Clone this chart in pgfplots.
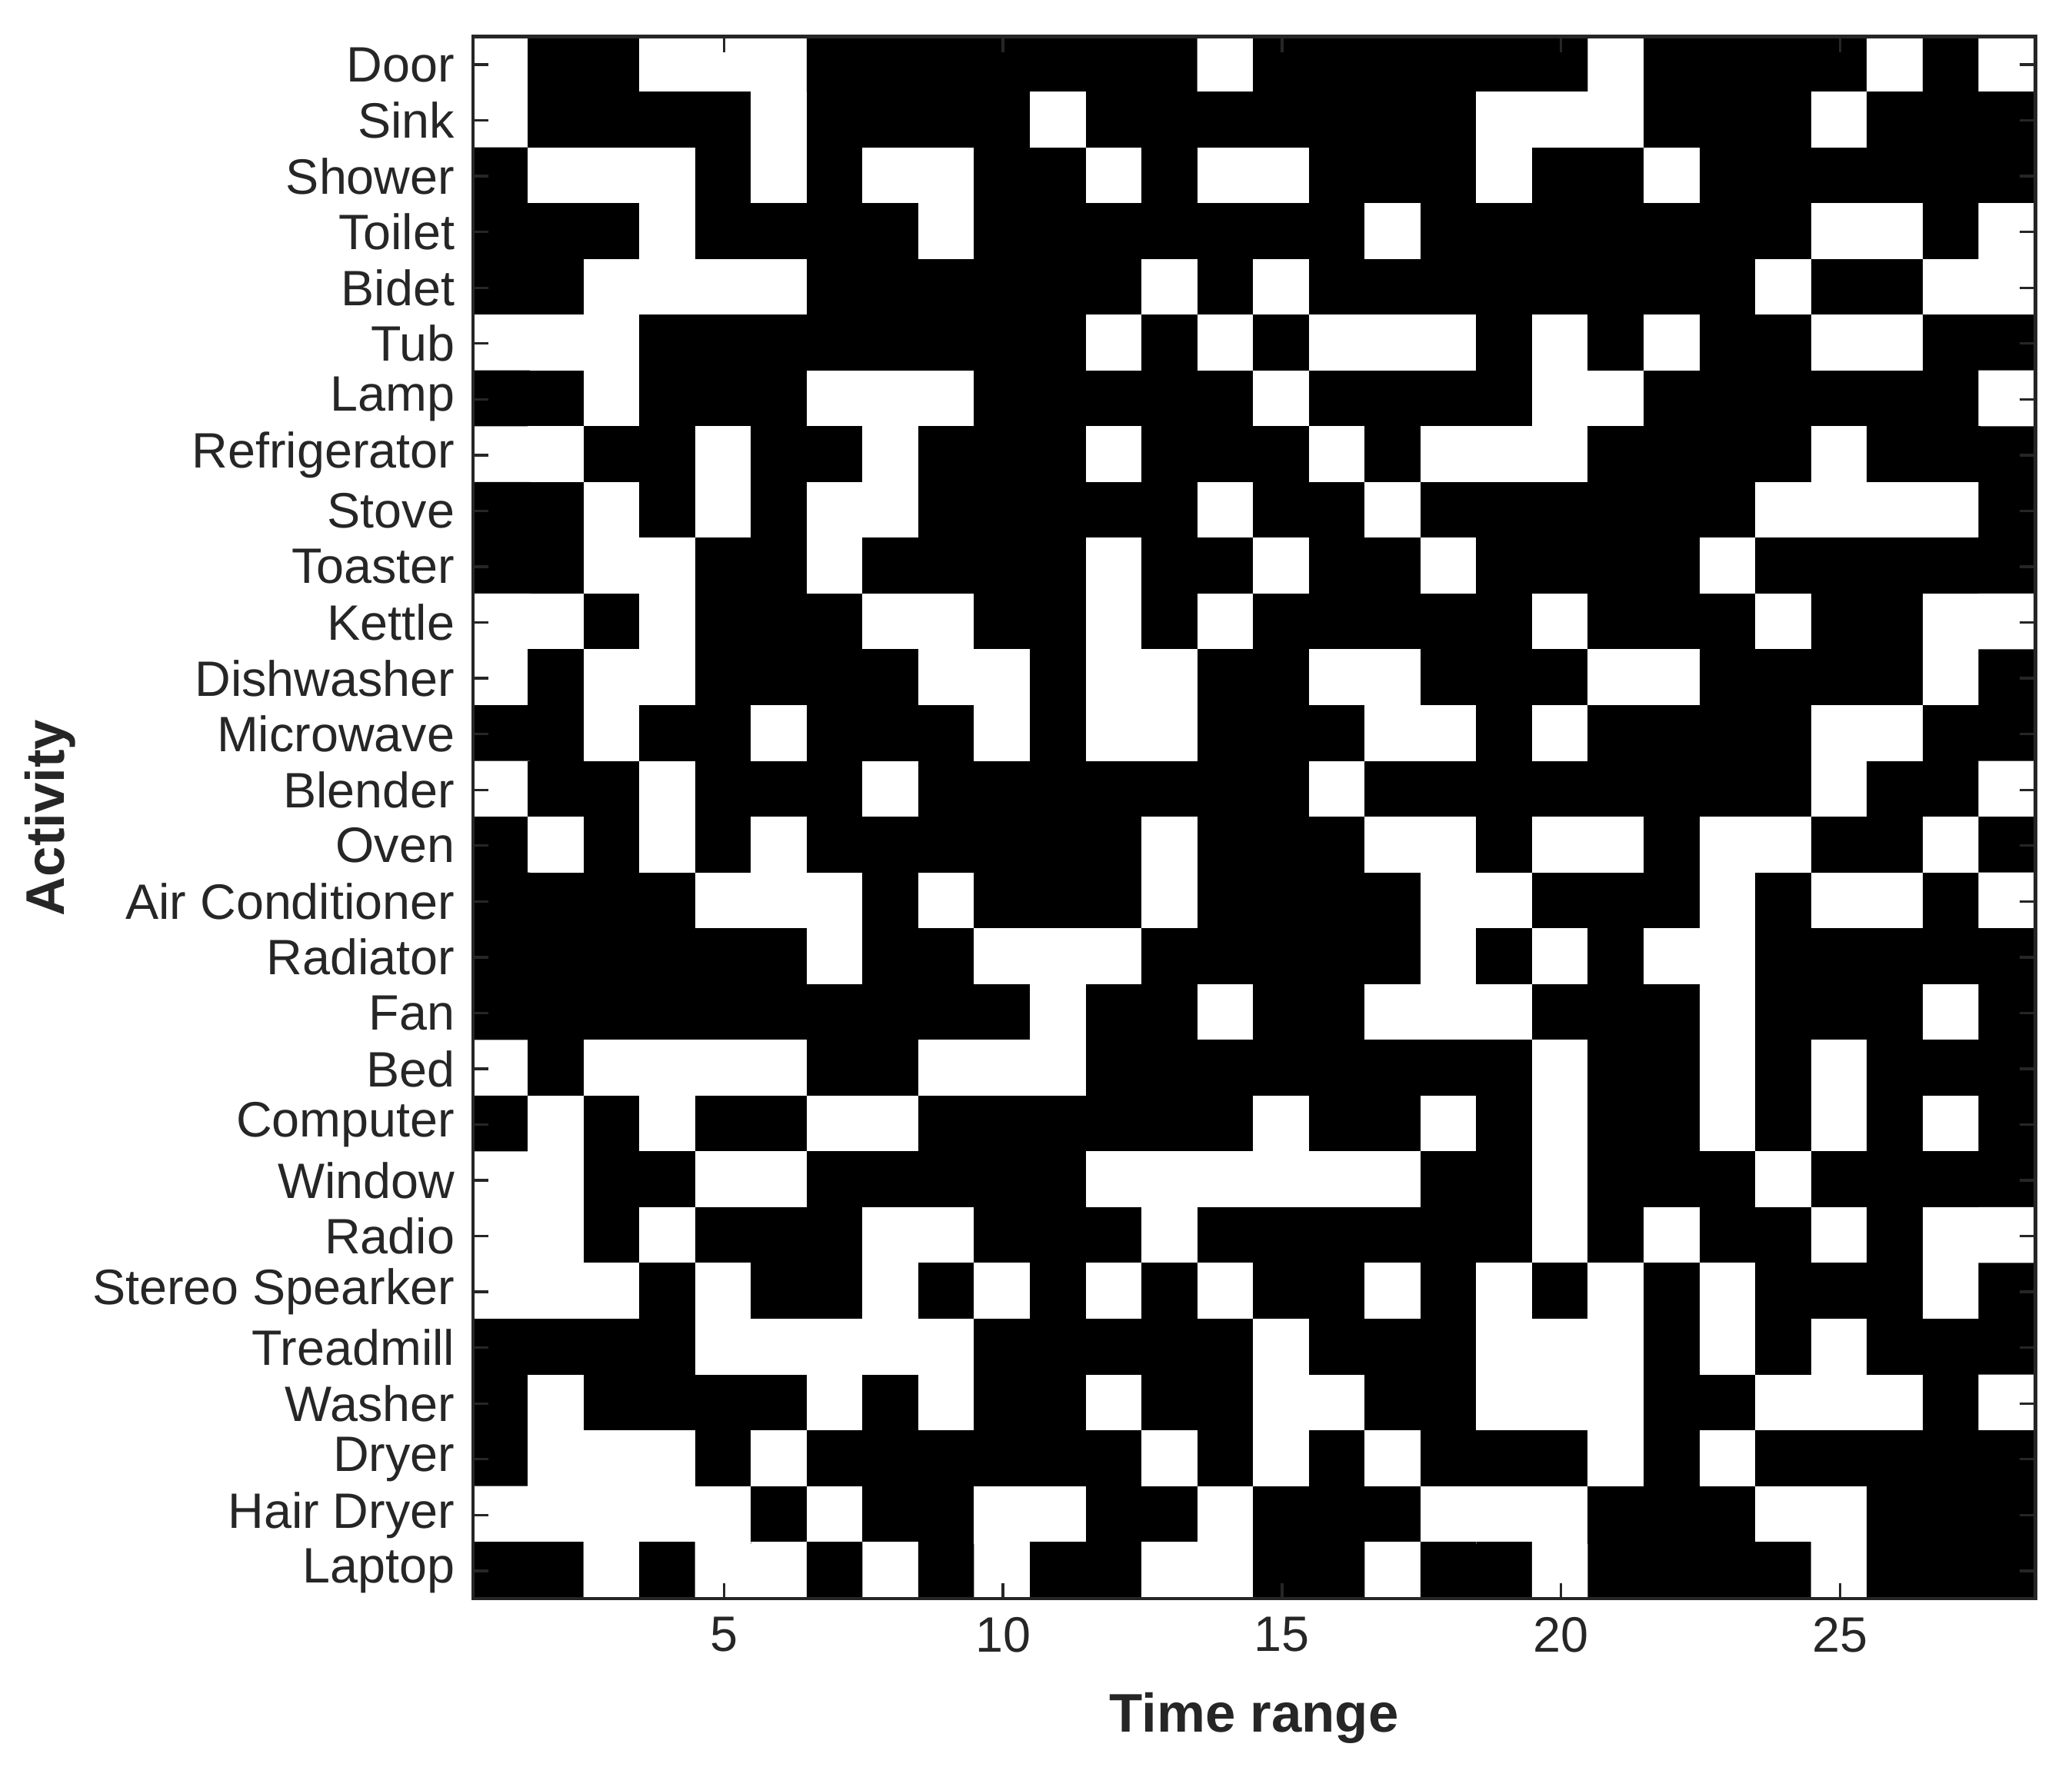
\documentclass[border=0pt]{standalone}
\usepackage{pgfplots}
\pgfplotsset{compat=1.18}
\usepackage{fontspec}
\setmainfont{Liberation Sans}
\definecolor{axgray}{RGB}{38,38,38}
\begin{document}
\begin{tikzpicture}
\begin{axis}[
  scale only axis, width=301.6pt, height=301.6pt,
  xmin=0.5, xmax=28.5, ymin=0.5, ymax=28.5,
  y dir=reverse,
  colormap={bw}{rgb255=(0,0,0) rgb255=(255,255,255)},
  point meta min=0, point meta max=1,
  xtick={5,10,15,20,25},
  ytick={1,...,28},
  yticklabels={Door,Sink,Shower,Toilet,Bidet,Tub,Lamp,Refrigerator,Stove,Toaster,Kettle,Dishwasher,Microwave,Blender,Oven,Air Conditioner,Radiator,Fan,Bed,Computer,Window,Radio,Stereo Spearker,Treadmill,Washer,Dryer,Hair Dryer,Laptop},
  tick align=inside,
  major tick length=3pt,
  axis line style={axgray, line width=0.7pt},
  tick style={axgray, line width=0.5pt},
  ticklabel style={font=\fontsize{9.6}{11}\selectfont, text=axgray},
  /pgf/number format/assume math mode=true,
  xlabel={Time range}, ylabel={Activity},
  label style={font=\fontsize{10.5}{12}\selectfont\bfseries, text=axgray},
  xlabel style={at={(axis description cs:0.5,-0.0763)}, anchor=center},
  ylabel style={at={(axis description cs:-0.2706,0.5)}, anchor=center},
  axis on top,
]
% 1 = white cell, 0 = black cell; rows top to bottom
\addplot[matrix plot*, mesh/cols=28, point meta=explicit] coordinates {
(1,1)[1] (2,1)[0] (3,1)[0] (4,1)[1] (5,1)[1] (6,1)[1] (7,1)[0] (8,1)[0] (9,1)[0] (10,1)[0] (11,1)[0] (12,1)[0] (13,1)[0] (14,1)[1] (15,1)[0] (16,1)[0] (17,1)[0] (18,1)[0] (19,1)[0] (20,1)[0] (21,1)[1] (22,1)[0] (23,1)[0] (24,1)[0] (25,1)[0] (26,1)[1] (27,1)[0] (28,1)[1]
(1,2)[1] (2,2)[0] (3,2)[0] (4,2)[0] (5,2)[0] (6,2)[1] (7,2)[0] (8,2)[0] (9,2)[0] (10,2)[0] (11,2)[1] (12,2)[0] (13,2)[0] (14,2)[0] (15,2)[0] (16,2)[0] (17,2)[0] (18,2)[0] (19,2)[1] (20,2)[1] (21,2)[1] (22,2)[0] (23,2)[0] (24,2)[0] (25,2)[1] (26,2)[0] (27,2)[0] (28,2)[0]
(1,3)[0] (2,3)[1] (3,3)[1] (4,3)[1] (5,3)[0] (6,3)[1] (7,3)[0] (8,3)[1] (9,3)[1] (10,3)[0] (11,3)[0] (12,3)[1] (13,3)[0] (14,3)[1] (15,3)[1] (16,3)[0] (17,3)[0] (18,3)[0] (19,3)[1] (20,3)[0] (21,3)[0] (22,3)[1] (23,3)[0] (24,3)[0] (25,3)[0] (26,3)[0] (27,3)[0] (28,3)[0]
(1,4)[0] (2,4)[0] (3,4)[0] (4,4)[1] (5,4)[0] (6,4)[0] (7,4)[0] (8,4)[0] (9,4)[1] (10,4)[0] (11,4)[0] (12,4)[0] (13,4)[0] (14,4)[0] (15,4)[0] (16,4)[0] (17,4)[1] (18,4)[0] (19,4)[0] (20,4)[0] (21,4)[0] (22,4)[0] (23,4)[0] (24,4)[0] (25,4)[1] (26,4)[1] (27,4)[0] (28,4)[1]
(1,5)[0] (2,5)[0] (3,5)[1] (4,5)[1] (5,5)[1] (6,5)[1] (7,5)[0] (8,5)[0] (9,5)[0] (10,5)[0] (11,5)[0] (12,5)[0] (13,5)[1] (14,5)[0] (15,5)[1] (16,5)[0] (17,5)[0] (18,5)[0] (19,5)[0] (20,5)[0] (21,5)[0] (22,5)[0] (23,5)[0] (24,5)[1] (25,5)[0] (26,5)[0] (27,5)[1] (28,5)[1]
(1,6)[1] (2,6)[1] (3,6)[1] (4,6)[0] (5,6)[0] (6,6)[0] (7,6)[0] (8,6)[0] (9,6)[0] (10,6)[0] (11,6)[0] (12,6)[1] (13,6)[0] (14,6)[1] (15,6)[0] (16,6)[1] (17,6)[1] (18,6)[1] (19,6)[0] (20,6)[1] (21,6)[0] (22,6)[1] (23,6)[0] (24,6)[0] (25,6)[1] (26,6)[1] (27,6)[0] (28,6)[0]
(1,7)[0] (2,7)[0] (3,7)[1] (4,7)[0] (5,7)[0] (6,7)[0] (7,7)[1] (8,7)[1] (9,7)[1] (10,7)[0] (11,7)[0] (12,7)[0] (13,7)[0] (14,7)[0] (15,7)[1] (16,7)[0] (17,7)[0] (18,7)[0] (19,7)[0] (20,7)[1] (21,7)[1] (22,7)[0] (23,7)[0] (24,7)[0] (25,7)[0] (26,7)[0] (27,7)[0] (28,7)[1]
(1,8)[1] (2,8)[1] (3,8)[0] (4,8)[0] (5,8)[1] (6,8)[0] (7,8)[0] (8,8)[1] (9,8)[0] (10,8)[0] (11,8)[0] (12,8)[1] (13,8)[0] (14,8)[0] (15,8)[0] (16,8)[1] (17,8)[0] (18,8)[1] (19,8)[1] (20,8)[1] (21,8)[0] (22,8)[0] (23,8)[0] (24,8)[0] (25,8)[1] (26,8)[0] (27,8)[0] (28,8)[0]
(1,9)[0] (2,9)[0] (3,9)[1] (4,9)[0] (5,9)[1] (6,9)[0] (7,9)[1] (8,9)[1] (9,9)[0] (10,9)[0] (11,9)[0] (12,9)[0] (13,9)[0] (14,9)[1] (15,9)[0] (16,9)[0] (17,9)[1] (18,9)[0] (19,9)[0] (20,9)[0] (21,9)[0] (22,9)[0] (23,9)[0] (24,9)[1] (25,9)[1] (26,9)[1] (27,9)[1] (28,9)[0]
(1,10)[0] (2,10)[0] (3,10)[1] (4,10)[1] (5,10)[0] (6,10)[0] (7,10)[1] (8,10)[0] (9,10)[0] (10,10)[0] (11,10)[0] (12,10)[1] (13,10)[0] (14,10)[0] (15,10)[1] (16,10)[0] (17,10)[0] (18,10)[1] (19,10)[0] (20,10)[0] (21,10)[0] (22,10)[0] (23,10)[1] (24,10)[0] (25,10)[0] (26,10)[0] (27,10)[0] (28,10)[0]
(1,11)[1] (2,11)[1] (3,11)[0] (4,11)[1] (5,11)[0] (6,11)[0] (7,11)[0] (8,11)[1] (9,11)[1] (10,11)[0] (11,11)[0] (12,11)[1] (13,11)[0] (14,11)[1] (15,11)[0] (16,11)[0] (17,11)[0] (18,11)[0] (19,11)[0] (20,11)[1] (21,11)[0] (22,11)[0] (23,11)[0] (24,11)[1] (25,11)[0] (26,11)[0] (27,11)[1] (28,11)[1]
(1,12)[1] (2,12)[0] (3,12)[1] (4,12)[1] (5,12)[0] (6,12)[0] (7,12)[0] (8,12)[0] (9,12)[1] (10,12)[1] (11,12)[0] (12,12)[1] (13,12)[1] (14,12)[0] (15,12)[0] (16,12)[1] (17,12)[1] (18,12)[0] (19,12)[0] (20,12)[0] (21,12)[1] (22,12)[1] (23,12)[0] (24,12)[0] (25,12)[0] (26,12)[0] (27,12)[1] (28,12)[0]
(1,13)[0] (2,13)[0] (3,13)[1] (4,13)[0] (5,13)[0] (6,13)[1] (7,13)[0] (8,13)[0] (9,13)[0] (10,13)[1] (11,13)[0] (12,13)[1] (13,13)[1] (14,13)[0] (15,13)[0] (16,13)[0] (17,13)[1] (18,13)[1] (19,13)[0] (20,13)[1] (21,13)[0] (22,13)[0] (23,13)[0] (24,13)[0] (25,13)[1] (26,13)[1] (27,13)[0] (28,13)[0]
(1,14)[1] (2,14)[0] (3,14)[0] (4,14)[1] (5,14)[0] (6,14)[0] (7,14)[0] (8,14)[1] (9,14)[0] (10,14)[0] (11,14)[0] (12,14)[0] (13,14)[0] (14,14)[0] (15,14)[0] (16,14)[1] (17,14)[0] (18,14)[0] (19,14)[0] (20,14)[0] (21,14)[0] (22,14)[0] (23,14)[0] (24,14)[0] (25,14)[1] (26,14)[0] (27,14)[0] (28,14)[1]
(1,15)[0] (2,15)[1] (3,15)[0] (4,15)[1] (5,15)[0] (6,15)[1] (7,15)[0] (8,15)[0] (9,15)[0] (10,15)[0] (11,15)[0] (12,15)[0] (13,15)[1] (14,15)[0] (15,15)[0] (16,15)[0] (17,15)[1] (18,15)[1] (19,15)[0] (20,15)[1] (21,15)[1] (22,15)[0] (23,15)[1] (24,15)[1] (25,15)[0] (26,15)[0] (27,15)[1] (28,15)[0]
(1,16)[0] (2,16)[0] (3,16)[0] (4,16)[0] (5,16)[1] (6,16)[1] (7,16)[1] (8,16)[0] (9,16)[1] (10,16)[0] (11,16)[0] (12,16)[0] (13,16)[1] (14,16)[0] (15,16)[0] (16,16)[0] (17,16)[0] (18,16)[1] (19,16)[1] (20,16)[0] (21,16)[0] (22,16)[0] (23,16)[1] (24,16)[0] (25,16)[1] (26,16)[1] (27,16)[0] (28,16)[1]
(1,17)[0] (2,17)[0] (3,17)[0] (4,17)[0] (5,17)[0] (6,17)[0] (7,17)[1] (8,17)[0] (9,17)[0] (10,17)[1] (11,17)[1] (12,17)[1] (13,17)[0] (14,17)[0] (15,17)[0] (16,17)[0] (17,17)[0] (18,17)[1] (19,17)[0] (20,17)[1] (21,17)[0] (22,17)[1] (23,17)[1] (24,17)[0] (25,17)[0] (26,17)[0] (27,17)[0] (28,17)[0]
(1,18)[0] (2,18)[0] (3,18)[0] (4,18)[0] (5,18)[0] (6,18)[0] (7,18)[0] (8,18)[0] (9,18)[0] (10,18)[0] (11,18)[1] (12,18)[0] (13,18)[0] (14,18)[1] (15,18)[0] (16,18)[0] (17,18)[1] (18,18)[1] (19,18)[1] (20,18)[0] (21,18)[0] (22,18)[0] (23,18)[1] (24,18)[0] (25,18)[0] (26,18)[0] (27,18)[1] (28,18)[0]
(1,19)[1] (2,19)[0] (3,19)[1] (4,19)[1] (5,19)[1] (6,19)[1] (7,19)[0] (8,19)[0] (9,19)[1] (10,19)[1] (11,19)[1] (12,19)[0] (13,19)[0] (14,19)[0] (15,19)[0] (16,19)[0] (17,19)[0] (18,19)[0] (19,19)[0] (20,19)[1] (21,19)[0] (22,19)[0] (23,19)[1] (24,19)[0] (25,19)[1] (26,19)[0] (27,19)[0] (28,19)[0]
(1,20)[0] (2,20)[1] (3,20)[0] (4,20)[1] (5,20)[0] (6,20)[0] (7,20)[1] (8,20)[1] (9,20)[0] (10,20)[0] (11,20)[0] (12,20)[0] (13,20)[0] (14,20)[0] (15,20)[1] (16,20)[0] (17,20)[0] (18,20)[1] (19,20)[0] (20,20)[1] (21,20)[0] (22,20)[0] (23,20)[1] (24,20)[0] (25,20)[1] (26,20)[0] (27,20)[1] (28,20)[0]
(1,21)[1] (2,21)[1] (3,21)[0] (4,21)[0] (5,21)[1] (6,21)[1] (7,21)[0] (8,21)[0] (9,21)[0] (10,21)[0] (11,21)[0] (12,21)[1] (13,21)[1] (14,21)[1] (15,21)[1] (16,21)[1] (17,21)[1] (18,21)[0] (19,21)[0] (20,21)[1] (21,21)[0] (22,21)[0] (23,21)[0] (24,21)[1] (25,21)[0] (26,21)[0] (27,21)[0] (28,21)[0]
(1,22)[1] (2,22)[1] (3,22)[0] (4,22)[1] (5,22)[0] (6,22)[0] (7,22)[0] (8,22)[1] (9,22)[1] (10,22)[0] (11,22)[0] (12,22)[0] (13,22)[1] (14,22)[0] (15,22)[0] (16,22)[0] (17,22)[0] (18,22)[0] (19,22)[0] (20,22)[1] (21,22)[0] (22,22)[1] (23,22)[0] (24,22)[0] (25,22)[1] (26,22)[0] (27,22)[1] (28,22)[1]
(1,23)[1] (2,23)[1] (3,23)[1] (4,23)[0] (5,23)[1] (6,23)[0] (7,23)[0] (8,23)[1] (9,23)[0] (10,23)[1] (11,23)[0] (12,23)[1] (13,23)[0] (14,23)[1] (15,23)[0] (16,23)[0] (17,23)[1] (18,23)[0] (19,23)[1] (20,23)[0] (21,23)[1] (22,23)[0] (23,23)[1] (24,23)[0] (25,23)[0] (26,23)[0] (27,23)[1] (28,23)[0]
(1,24)[0] (2,24)[0] (3,24)[0] (4,24)[0] (5,24)[1] (6,24)[1] (7,24)[1] (8,24)[1] (9,24)[1] (10,24)[0] (11,24)[0] (12,24)[0] (13,24)[0] (14,24)[0] (15,24)[1] (16,24)[0] (17,24)[0] (18,24)[0] (19,24)[1] (20,24)[1] (21,24)[1] (22,24)[0] (23,24)[1] (24,24)[0] (25,24)[1] (26,24)[0] (27,24)[0] (28,24)[0]
(1,25)[0] (2,25)[1] (3,25)[0] (4,25)[0] (5,25)[0] (6,25)[0] (7,25)[1] (8,25)[0] (9,25)[1] (10,25)[0] (11,25)[0] (12,25)[1] (13,25)[0] (14,25)[0] (15,25)[1] (16,25)[1] (17,25)[0] (18,25)[0] (19,25)[1] (20,25)[1] (21,25)[1] (22,25)[0] (23,25)[0] (24,25)[1] (25,25)[1] (26,25)[1] (27,25)[0] (28,25)[1]
(1,26)[0] (2,26)[1] (3,26)[1] (4,26)[1] (5,26)[0] (6,26)[1] (7,26)[0] (8,26)[0] (9,26)[0] (10,26)[0] (11,26)[0] (12,26)[0] (13,26)[1] (14,26)[0] (15,26)[1] (16,26)[0] (17,26)[1] (18,26)[0] (19,26)[0] (20,26)[0] (21,26)[1] (22,26)[0] (23,26)[1] (24,26)[0] (25,26)[0] (26,26)[0] (27,26)[0] (28,26)[0]
(1,27)[1] (2,27)[1] (3,27)[1] (4,27)[1] (5,27)[1] (6,27)[0] (7,27)[1] (8,27)[0] (9,27)[0] (10,27)[1] (11,27)[1] (12,27)[0] (13,27)[0] (14,27)[1] (15,27)[0] (16,27)[0] (17,27)[0] (18,27)[1] (19,27)[1] (20,27)[1] (21,27)[0] (22,27)[0] (23,27)[0] (24,27)[1] (25,27)[1] (26,27)[0] (27,27)[0] (28,27)[0]
(1,28)[0] (2,28)[0] (3,28)[1] (4,28)[0] (5,28)[1] (6,28)[1] (7,28)[0] (8,28)[1] (9,28)[0] (10,28)[1] (11,28)[0] (12,28)[0] (13,28)[1] (14,28)[1] (15,28)[0] (16,28)[0] (17,28)[1] (18,28)[0] (19,28)[0] (20,28)[1] (21,28)[0] (22,28)[0] (23,28)[0] (24,28)[0] (25,28)[1] (26,28)[0] (27,28)[0] (28,28)[0]
};
\end{axis}
\path ([xshift=-91.3pt,yshift=-32.5pt]current axis.south west) rectangle ([xshift=7.1pt,yshift=7.1pt]current axis.north east);
\end{tikzpicture}
\end{document}
